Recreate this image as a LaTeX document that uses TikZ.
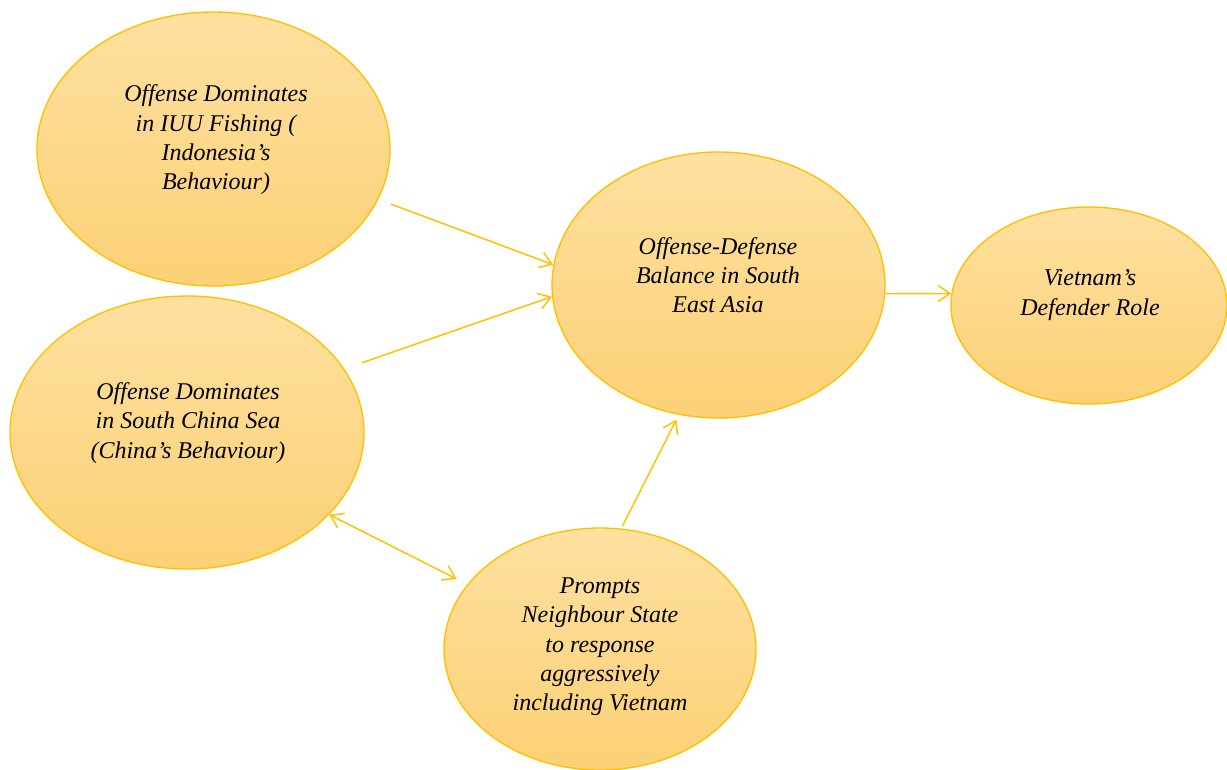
\documentclass[tikz,border=0pt]{standalone}
\usepackage{fontspec}
\setmainfont{Liberation Serif}
\usetikzlibrary{shapes.geometric,arrows.meta}

\definecolor{gold}{RGB}{255,192,0}
\definecolor{bubbletop}{RGB}{254,224,160}
\definecolor{bubblebot}{RGB}{252,209,118}

\tikzset{every picture/.style={line width=0.75pt}}
\tikzset{
  bubble/.style={ellipse, draw=gold, line width=1pt, top color=bubbletop, bottom color=bubblebot, inner sep=0pt},
  bubbletext/.style={align=center, font=\fontsize{18}{22}\selectfont\itshape},
  link/.style={draw=gold, line width=1.1pt, -{Straight Barb[length=9pt,width=12pt]}},
  twolink/.style={draw=gold, line width=1.1pt, {Straight Barb[length=9pt,width=12pt]}-{Straight Barb[length=9pt,width=12pt]}},
}

\begin{document}
\begin{tikzpicture}[x=0.75pt,y=0.75pt,yscale=-1,xscale=1]
\useasboundingbox (0,0) rectangle (1227,769);

%Shape: Ellipse [IUU fishing]
\node [bubble, minimum width=264.75pt, minimum height=205.5pt] (iuu) at (213.5,149) {};
%Shape: Ellipse [South China Sea]
\node [bubble, minimum width=265.5pt, minimum height=204.75pt] (scs) at (187,432.5) {};
%Shape: Ellipse [balance]
\node [bubble, minimum width=249.75pt, minimum height=199.5pt] (balance) at (718.5,285) {};
%Shape: Ellipse [Vietnam]
\node [bubble, minimum width=207pt, minimum height=147.75pt] (vietnam) at (1089,305.5) {};
%Shape: Ellipse [neighbour states]
\node [bubble, minimum width=234pt, minimum height=181.5pt] (prompts) at (600,649) {};

%Straight Lines
\draw [link, shorten <=10pt] (iuu.-17.6) -- (balance.173.2);
\draw [link, shorten <=14pt] (scs.22) -- (balance.184);
\draw [link] (balance.-3.4) -- (vietnam.175.6);
\draw [twolink, shorten >=9pt] (scs.-30.6) -- (prompts.154.4);
\draw [link, shorten <=2pt, shorten >=4pt] (prompts.80.3) -- (balance.253.2);

% Text Node
\node [bubbletext] (iuutext) at (216,140) {Offense Dominates\\in IUU Fishing (\\Indonesia's\\Behaviour)};
% Text Node
\node [bubbletext] (scstext) at (188,423) {Offense Dominates\\in South China Sea\\(China's Behaviour)};
% Text Node
\node [bubbletext] (balancetext) at (718,275) {Offense-Defense\\Balance in South\\East Asia};
% Text Node
\node [bubbletext] (vietnamtext) at (1090,295) {Vietnam's\\Defender Role};
% Text Node
\node [bubbletext] (promptstext) at (600,647) {Prompts\\Neighbour State\\to response\\aggressively\\including Vietnam};
\end{tikzpicture}
\end{document}
